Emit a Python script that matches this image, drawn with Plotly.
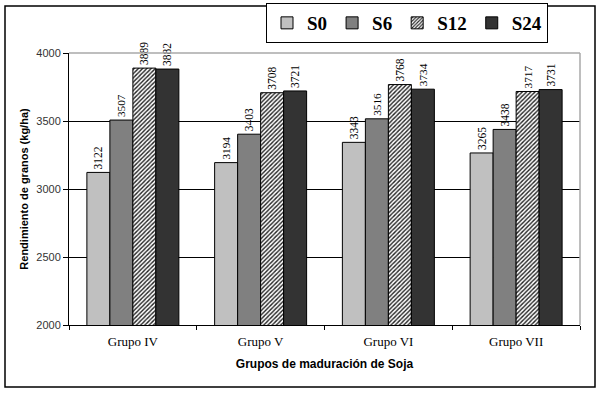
import plotly.graph_objects as go

categories = ["Grupo IV", "Grupo V", "Grupo VI", "Grupo VII"]
series_names = ["S0", "S6", "S12", "S24"]
s0 = [3122, 3194, 3343, 3265]
s6 = [3507, 3403, 3516, 3438]
s12 = [3889, 3708, 3768, 3717]
s24 = [3882, 3721, 3734, 3731]
values = [s0, s6, s12, s24]

y_title = "Rendimiento de granos (kg/ha)"
x_title = "Grupos de maduración de Soja"
y_ticks = [2000, 2500, 3000, 3500, 4000]

W, H = 600, 395
ML, MR, MT, MB = 69, 20, 53, 70
PW = W - ML - MR
PH = H - MT - MB

def px(x):
    return (x - ML) / PW

def py(y):
    return (H - MB - y) / PH

fills = ["#c0c0c0", "#808080", "#ffffff", "#333333"]

fig = go.Figure()
for name, vals, col in zip(series_names, values, fills):
    marker = dict(color=col, line=dict(color="black", width=1))
    if name == "S12":
        marker["pattern"] = dict(shape="/", fgcolor="#222222", bgcolor="white",
                                 size=3, solidity=0.45, fillmode="replace")
    fig.add_trace(go.Bar(
        name="<b>" + name + "</b>", x=categories, y=vals, marker=marker,
        text=[str(v) for v in vals], textposition="outside", textangle=-90,
        textfont=dict(family="Liberation Serif", size=13, color="black"),
        cliponaxis=False,
    ))

fig.update_layout(
    width=W, height=H,
    margin=dict(l=ML, r=MR, t=MT, b=MB, autoexpand=False),
    paper_bgcolor="white", plot_bgcolor="white",
    barmode="group", bargap=0.28, bargroupgap=0,
    showlegend=True,
    legend=dict(
        orientation="h", x=px(266), y=py(3), xanchor="left", yanchor="top",
        bgcolor="white", bordercolor="black", borderwidth=1,
        font=dict(family="Liberation Serif", size=19, color="black"),
        itemwidth=30, tracegroupgap=0,
    ),
    uniformtext=dict(mode=False),
)

fig.update_xaxes(
    type="category", tickson="boundaries", ticks="outside", ticklen=4,
    tickcolor="black", showline=True, linecolor="black", linewidth=1,
    tickfont=dict(family="Liberation Serif", size=13, color="black"),
    ticklabelstandoff=4,
    title=dict(text="<b>" + x_title + "</b>", standoff=12,
               font=dict(family="Liberation Sans", size=12, color="black")),
    showgrid=False,
)
fig.update_yaxes(
    range=[2000, 4000], tickvals=y_ticks, ticks="outside", ticklen=5,
    tickcolor="black", showline=True, linecolor="black", linewidth=1,
    showgrid=True, gridcolor="black", gridwidth=1,
    tickfont=dict(family="Liberation Sans", size=11, color="#333333"),
    title=dict(text="<b>" + y_title + "</b>", standoff=5,
               font=dict(family="Liberation Sans", size=11, color="black")),
    zeroline=False,
)

# gray top/right plot border
fig.add_shape(type="line", xref="paper", yref="paper", x0=0, x1=1, y0=1, y1=1,
              line=dict(color="#a8a8a8", width=1.5), layer="above")
fig.add_shape(type="line", xref="paper", yref="paper", x0=1, x1=1, y0=0, y1=1,
              line=dict(color="#a8a8a8", width=1.5), layer="above")
# outer frame
fig.add_shape(type="rect", xref="paper", yref="paper",
              x0=px(5), x1=px(595), y0=py(387), y1=py(6),
              line=dict(color="black", width=1.5), layer="below")

fig.write_html("out.html", config={"displayModeBar": False},
               post_script="document.body.style.margin='0';")
